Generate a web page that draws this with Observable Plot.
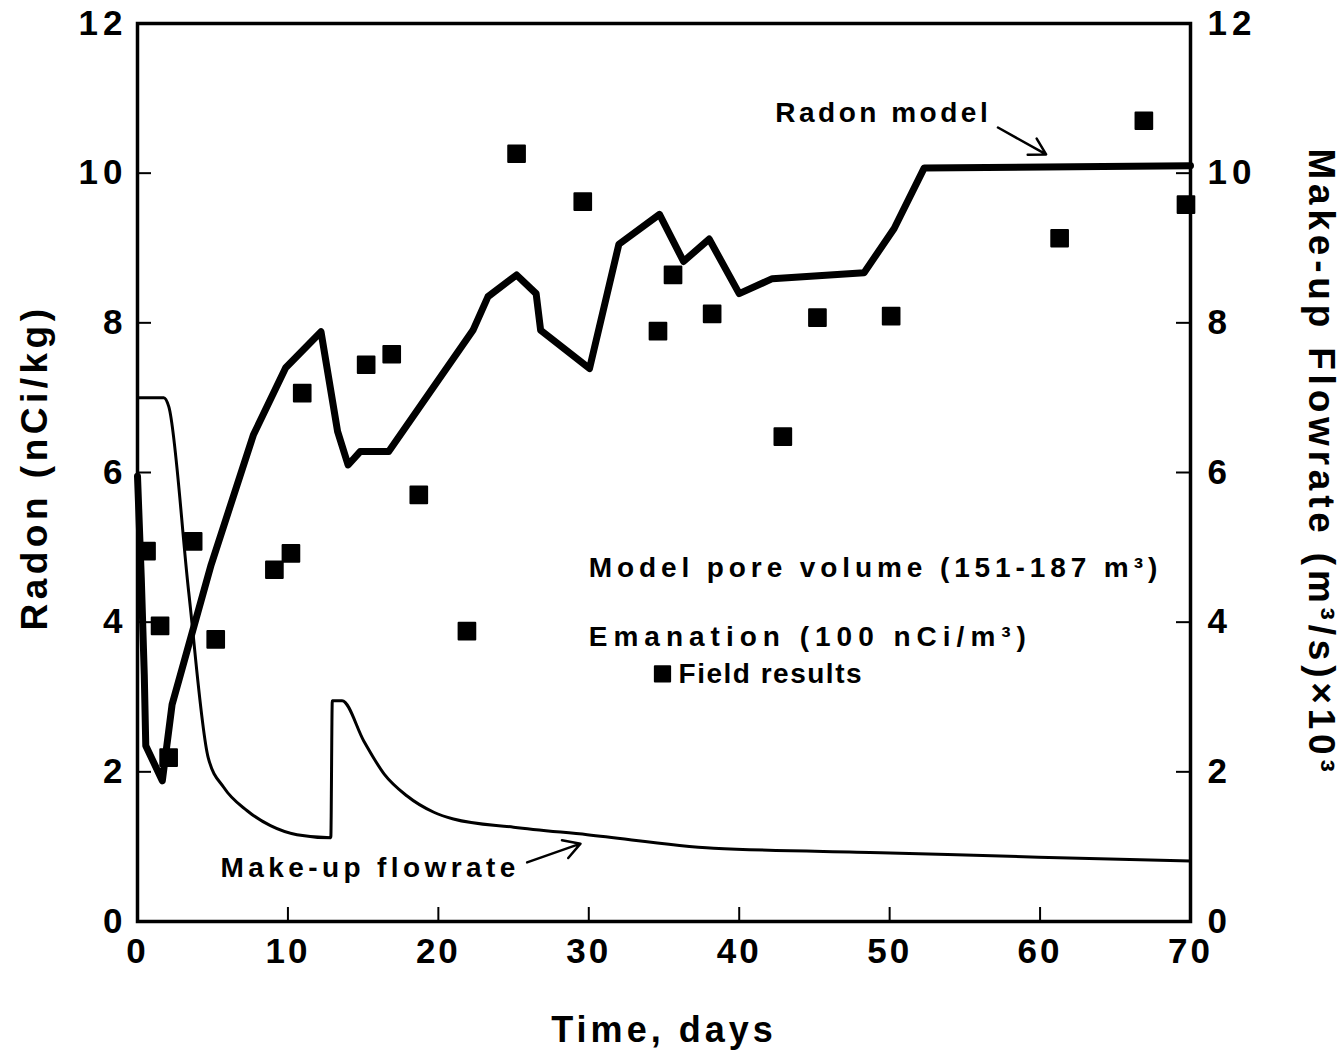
<!DOCTYPE html>
<html><head><meta charset="utf-8">
<script src="https://cdn.jsdelivr.net/npm/d3@7"></script>
<script src="https://cdn.jsdelivr.net/npm/@observablehq/plot@0.6"></script>
<style>
body{margin:0;background:#fff}
#chart svg{font-family:"Liberation Sans",Arial,Helvetica,sans-serif;font-weight:bold}
</style>
</head><body><div id="chart"></div><script>
// Radon model (thick line), left axis nCi/kg
const radonDays   = [0, 0.25, 0.45, 0.55, 1.65, 2.3, 4.9, 7.7, 9.85, 12.2, 13.3, 14.0, 14.8, 16.7, 22.3, 23.3, 25.2, 26.5, 26.8, 30.05, 32.0, 34.7, 36.3, 38.0, 40.0, 42.2, 48.3, 50.3, 52.3, 70];
const radonValues = [5.95, 4.6, 3.3, 2.35, 1.88, 2.9, 4.77, 6.5, 7.4, 7.88, 6.55, 6.1, 6.28, 6.28, 7.9, 8.35, 8.64, 8.39, 7.9, 7.39, 9.05, 9.45, 8.82, 9.12, 8.39, 8.59, 8.67, 9.26, 10.07, 10.1];
// Make-up flowrate (thin line), right axis (m3/s)x10^3
const flowDays   = [0, 1.75, 2.08, 3.4, 4.7, 5.74, 7.29, 8.84, 10.6, 12.85, 12.95, 13.6, 15.05, 16.4, 17.9, 19.7, 21.0, 25.0, 29.9, 38.3, 49.4, 59.9, 70];
const flowValues = [7.0, 7.0, 6.88, 4.41, 2.19, 1.79, 1.48, 1.28, 1.16, 1.12, 2.95, 2.95, 2.41, 1.97, 1.68, 1.46, 1.37, 1.26, 1.16, 0.98, 0.92, 0.86, 0.81];
// Field results (squares)
const fieldDays   = [0.6, 1.5, 2.07, 3.7, 5.2, 9.1, 10.2, 10.95, 15.2, 16.9, 18.7, 21.9, 25.2, 29.6, 34.6, 35.6, 38.2, 42.9, 45.2, 50.1, 61.3, 66.9, 69.7];
const fieldValues = [4.95, 3.95, 2.19, 5.08, 3.77, 4.7, 4.92, 7.06, 7.44, 7.58, 5.7, 3.88, 10.26, 9.62, 7.89, 8.64, 8.12, 6.48, 8.07, 8.09, 9.13, 10.7, 9.58];
// Ticks
const xTicks = [0, 10, 20, 30, 40, 50, 60, 70];
const yTicks = [0, 2, 4, 6, 8, 10, 12];
// Titles
const yLeftTitle = "Radon (nCi/kg)";
const yRightTitle = "Make-up Flowrate (m³/s)×10³";
const xTitle = "Time, days";
// Annotations (in data units)
const noteTexts = ["Radon model", "Make-up flowrate", "Model pore volume (151-187 m³)", "Emanation (100 nCi/m³)", "Field results"];
const noteDays  = [42.4, 5.52, 30.0, 30.0, 35.97];
const noteVals  = [10.81, 0.72, 4.72, 3.8, 3.31];
const arrowFrom = [[57.2, 10.61], [25.9, 0.79]];
const arrowTo   = [[60.4, 10.25], [29.45, 1.04]];
const legendSquare = [[34.9, 3.31]];

const radon = radonDays.map((d, i) => ({d, v: radonValues[i]}));
const flow = flowDays.map((d, i) => ({d, v: flowValues[i]}));
const field = fieldDays.map((d, i) => ({d, v: fieldValues[i]}));
const notes = noteTexts.map((t, i) => ({t, d: noteDays[i], v: noteVals[i]}));
const arrows = arrowFrom.map((a, i) => ({x1: a[0], y1: a[1], x2: arrowTo[i][0], y2: arrowTo[i][1]}));

const W = 1344, H = 1056, mL = 137, mR = 154, mT = 23, mB = 135;
const pw = W - mL - mR, ph = H - mT - mB, tk = 14;

const chart = Plot.plot({
  width: W, height: H,
  marginLeft: mL, marginRight: mR, marginTop: mT, marginBottom: mB,
  style: {background: "white", color: "black", fontSize: "35px", fontWeight: "bold", letterSpacing: "5px"},
  x: {domain: [0, 70]},
  y: {domain: [0, 12]},
  marks: [
    Plot.axisY(yTicks, {anchor: "left", tickSize: 0, tickPadding: 10, fontSize: 35, tickFormat: d3.format("d"), label: null}),
    Plot.axisY(yTicks, {anchor: "right", tickSize: 0, tickPadding: 17, fontSize: 35, tickFormat: d3.format("d"), label: null}),
    Plot.axisX(xTicks, {anchor: "bottom", tickSize: 0, tickPadding: 17, fontSize: 35, tickFormat: d3.format("d"), label: null}),
    Plot.tickY(yTicks, {y: d => d, insetRight: pw - tk, strokeWidth: 2}),
    Plot.tickY(yTicks, {y: d => d, insetLeft: pw - tk, strokeWidth: 2}),
    Plot.tickX(xTicks, {x: d => d, insetTop: ph - tk, strokeWidth: 2}),
    Plot.line(flow, {x: "d", y: "v", stroke: "black", strokeWidth: 3, strokeLinejoin: "round", curve: "monotone-x"}),
    Plot.line(radon, {x: "d", y: "v", stroke: "black", strokeWidth: 7, strokeLinejoin: "round", strokeLinecap: "round"}),
    Plot.dot(field, {x: "d", y: "v", symbol: "square", r: 9.4, fill: "black", stroke: "black", strokeWidth: 2, strokeLinejoin: "round"}),
    Plot.dot(legendSquare, {x: d => d[0], y: d => d[1], symbol: "square", r: 8.6, fill: "black", stroke: "black", strokeWidth: 2, strokeLinejoin: "round"}),
    Plot.text(notes, {x: "d", y: "v", text: "t", textAnchor: "start", lineAnchor: "middle", fontSize: 28, fontWeight: "bold"}),
    Plot.arrow(arrows, {x1: "x1", y1: "y1", x2: "x2", y2: "y2", stroke: "black", strokeWidth: 2.5, headLength: 13}),
    Plot.text([yLeftTitle], {frameAnchor: "left", rotate: -90, dx: -102, dy: -5, textAnchor: "middle", lineAnchor: "middle", fontSize: 37, fontWeight: "bold"}),
    Plot.text([yRightTitle], {frameAnchor: "right", rotate: 90, dx: 130, dy: -10, textAnchor: "middle", lineAnchor: "middle", fontSize: 37, fontWeight: "bold"}),
    Plot.text([xTitle], {frameAnchor: "bottom", dy: 109, textAnchor: "middle", lineAnchor: "middle", fontSize: 36, fontWeight: "bold"}),
    Plot.frame({stroke: "black", strokeWidth: 3.5})
  ]
});
// letter spacing per text (style only)
const spacing = new Map([
  [noteTexts[0], "3.5px"], [noteTexts[1], "4.4px"], [noteTexts[2], "4.9px"], [noteTexts[3], "6px"], [noteTexts[4], "1.5px"],
  [yLeftTitle, "4.5px"], [yRightTitle, "4.8px"], [xTitle, "4px"]
]);
chart.querySelectorAll("text").forEach(t => {
  const s = spacing.get(t.textContent);
  if (s) t.style.letterSpacing = s;
});
chart.querySelectorAll('g[aria-label="x-axis tick label"] text').forEach(t => { t.style.letterSpacing = "3px"; });
document.getElementById("chart").appendChild(chart);
</script></body></html>
